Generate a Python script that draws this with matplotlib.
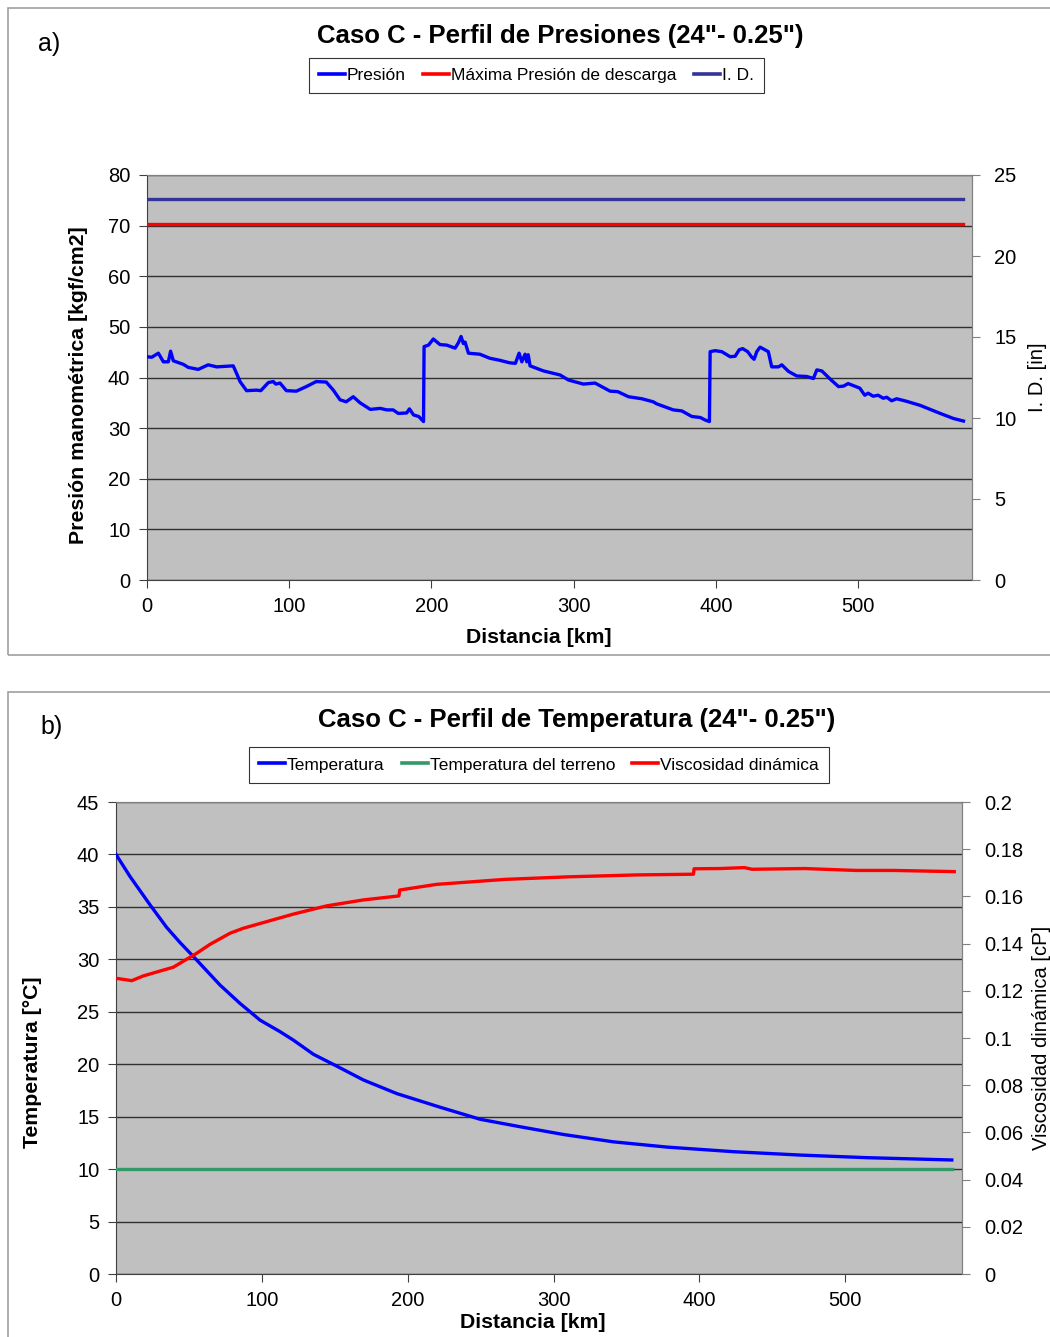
import matplotlib
matplotlib.use("Agg")
import matplotlib.pyplot as plt
from matplotlib.patches import Rectangle
from matplotlib.lines import Line2D
from matplotlib.ticker import FuncFormatter

plt.rcParams['font.family'] = ['Liberation Sans', 'DejaVu Sans']

# --- a) pressure profile ---
pres_km = [0, 3.3, 8, 11.5, 15, 16.6, 18.5, 25.5, 29, 36,
           43, 49, 60.6, 63, 65.4, 70, 77, 80, 85.3, 88.8,
           90.5, 93.5, 98, 105, 112, 119, 126, 131, 135.7, 140,
           145, 149.8, 157, 164, 168.6, 173, 176.7, 182.6, 184.5, 187.4,
           191, 194.4, 194.8, 197.9, 201.3, 206, 210.7, 216.6, 219, 220.8,
           222.4, 223.6, 226, 234, 241, 248, 255, 259, 261.6, 263.5,
           265.8, 267, 268, 269.3, 278.7, 290.4, 296.3, 306.8, 315, 325.6,
           331, 338.5, 347.9, 355.9, 358.3, 370, 376, 383, 389, 392.4,
           395.4, 395.9, 399.4, 404.1, 410, 413.5, 416.4, 418.8, 422.3, 425.2,
           426.8, 428.7, 431, 436.8, 439.2, 443.9, 446.3, 451, 456.8, 463.8,
           468.5, 470.9, 474.4, 481, 486.2, 489.7, 492.9, 501.1, 504.6, 507,
           510.5, 514, 517.6, 520, 523.5, 527, 534, 543.5, 557.7, 567,
           574]
pres = [44.1, 44.0, 44.8, 43.1, 43.1, 45.2, 43.3, 42.6, 42.0, 41.6,
        42.5, 42.1, 42.3, 40.8, 39.2, 37.4, 37.5, 37.4, 39.0, 39.2,
        38.7, 38.9, 37.4, 37.3, 38.2, 39.2, 39.1, 37.5, 35.6, 35.2,
        36.2, 35.0, 33.7, 33.9, 33.6, 33.6, 32.9, 33.0, 33.8, 32.6,
        32.3, 31.3, 46.1, 46.4, 47.6, 46.5, 46.4, 45.8, 46.9, 48.1,
        46.7, 47.0, 44.8, 44.6, 43.8, 43.4, 42.9, 42.8, 44.8, 43.1,
        44.6, 43.1, 44.5, 42.3, 41.3, 40.5, 39.5, 38.7, 38.9, 37.3,
        37.2, 36.2, 35.8, 35.2, 34.8, 33.6, 33.4, 32.3, 32.1, 31.6,
        31.3, 45.1, 45.3, 45.1, 44.1, 44.2, 45.5, 45.7, 45.1, 44.0,
        43.6, 45.1, 46.0, 45.1, 42.1, 42.1, 42.5, 41.2, 40.3, 40.2,
        39.8, 41.5, 41.3, 39.5, 38.2, 38.3, 38.8, 37.9, 36.5, 36.9,
        36.3, 36.5, 35.9, 36.1, 35.4, 35.8, 35.3, 34.5, 32.9, 31.9,
        31.4]
line_km = [0, 574]
max_pres = [70.3, 70.3]
inner_diam = [23.5, 23.5]

# --- b) temperature profile ---
temp_km = [0, 9.6, 23.3, 34.7, 43.9, 54.2, 71.3, 85, 98.8, 112.5,
           121.6, 135.3, 150.2, 169.6, 192.5, 222.2, 249.7, 277, 306.8, 341,
           377.7, 423.4, 469, 514.9, 573]
temp = [40.0, 37.9, 35.2, 33.05, 31.6, 30.1, 27.55, 25.8, 24.2, 23.1,
        22.3, 20.95, 19.9, 18.5, 17.2, 15.9, 14.75, 14.04, 13.3, 12.6,
        12.1, 11.66, 11.34, 11.09, 10.87]
ground_km = [0, 573]
ground_temp = [10, 10]
visc_km = [0, 10.8, 18.7, 39.3, 55.3, 64.5, 78.2, 87.3, 101, 121.6,
           144.5, 169.6, 194, 194.5, 219.8, 266.4, 310.5, 357, 395.9, 396.3,
           414, 430.8, 436, 472.3, 507.3, 533, 574.7]
visc = [0.1253, 0.1243, 0.1263, 0.130, 0.1359, 0.1397, 0.1444, 0.1465, 0.1489, 0.1525,
        0.156, 0.1585, 0.1602, 0.1627, 0.1651, 0.1672, 0.1683, 0.1691, 0.1694, 0.1717,
        0.1718, 0.1722, 0.1715, 0.1718, 0.171, 0.171, 0.1705]

W, H = 1050, 1337
fig = plt.figure(figsize=(W / 100, H / 100), dpi=100)
fig.patch.set_facecolor('white')

# panel frames
fig.patches.append(Rectangle((8 / W, 1 - 655 / H), 1.2, (655 - 8) / H, transform=fig.transFigure,
                             fill=False, edgecolor='#a0a0a0', lw=1.2))
fig.patches.append(Rectangle((8 / W, -0.1), 1.2, 0.1 + (1337 - 692) / H, transform=fig.transFigure,
                             fill=False, edgecolor='#a0a0a0', lw=1.2))

TICK = 14.5
LAB = 15.3
TITLE = 18.5


def style(ax, ax2):
    ax.set_facecolor('#c0c0c0')
    ax.grid(axis='y', color='#303030', lw=1.0)
    ax.set_axisbelow(True)
    for s in ['left', 'bottom']:
        ax.spines[s].set_color('#404040')
    for s in ['right', 'top']:
        ax.spines[s].set_color('#808080')
        ax2.spines[s].set_color('#808080')
    ax2.spines['left'].set_visible(False)
    ax2.spines['bottom'].set_visible(False)
    ax.tick_params(direction='out', length=6, labelsize=TICK, color='#404040', pad=6)
    ax2.tick_params(direction='out', length=6, labelsize=TICK, color='#808080', pad=10)


def legend(handles, labels, cx, cy):
    leg = fig.legend(handles, labels, loc='center', bbox_to_anchor=(cx / W, 1 - cy / H), ncol=3,
                     fontsize=12.5, frameon=True, fancybox=False, edgecolor='black',
                     handlelength=1.5, handletextpad=0.1, columnspacing=1.0, borderpad=0.6)
    leg.get_frame().set_linewidth(0.8)
    return leg


# ---------- top chart ----------
ax1 = fig.add_axes([147 / W, 1 - 580 / H, (972 - 147) / W, (580 - 175) / H])
ax1b = ax1.twinx()
style(ax1, ax1b)
ax1.plot(pres_km, pres, color='#0000ff', lw=2.4, zorder=3)
ax1.plot(line_km, max_pres, color='#ff0000', lw=2.4, zorder=3)
ax1b.plot(line_km, inner_diam, color='#333399', lw=2.4)
ax1.set_xlim(0, 580)
ax1.set_ylim(0, 80)
ax1.set_yticks(range(0, 81, 10))
ax1.set_xticks(range(0, 501, 100))
ax1b.set_ylim(0, 25)
ax1b.set_yticks(range(0, 26, 5))
ax1.set_xlabel('Distancia [km]', fontsize=LAB, fontweight='bold')
ax1.xaxis.set_label_coords(0.475, -0.118)
ax1.set_ylabel('Presión manométrica [kgf/cm2]', fontsize=LAB, fontweight='bold')
ax1.yaxis.set_label_coords(-0.072, 0.481)
ax1b.set_ylabel('I. D. [in]', fontsize=14.5, labelpad=8)

fig.text(560 / W, 1 - 36 / H, 'Caso C - Perfil de Presiones (24"- 0.25")', ha='center', va='center',
         fontsize=TITLE, fontweight='bold')
fig.text(38 / W, 1 - 44 / H, 'a)', ha='left', va='center', fontsize=18)
legend([Line2D([], [], color='#0000ff', lw=2.6), Line2D([], [], color='#ff0000', lw=2.6),
        Line2D([], [], color='#333399', lw=2.6)],
       ['Presión', 'Máxima Presión de descarga', 'I. D.'], 536.5, 75.5)

# ---------- bottom chart ----------
ax2 = fig.add_axes([116 / W, 1 - 1274 / H, (962 - 116) / W, (1274 - 802) / H])
ax2b = ax2.twinx()
style(ax2, ax2b)
ax2.plot(temp_km, temp, color='#0000ff', lw=2.4, zorder=3)
ax2.plot(ground_km, ground_temp, color='#339966', lw=2.4, zorder=3)
ax2b.plot(visc_km, visc, color='#ff0000', lw=2.4)
ax2.set_xlim(0, 580)
ax2.set_ylim(0, 45)
ax2.set_yticks(range(0, 46, 5))
ax2.set_xticks(range(0, 501, 100))
ax2b.set_ylim(0, 0.2)
ax2b.set_yticks([i * 0.02 for i in range(11)])
ax2b.yaxis.set_major_formatter(FuncFormatter(lambda v, p: f'{v:.2f}'.rstrip('0').rstrip('.')))
ax2.set_xlabel('Distancia [km]', fontsize=LAB, fontweight='bold')
ax2.xaxis.set_label_coords(0.493, -0.082)
ax2.set_ylabel('Temperatura [°C]', fontsize=LAB, fontweight='bold')
ax2.yaxis.set_label_coords(-0.087, 0.449)
ax2b.set_ylabel('Viscosidad dinámica [cP]', fontsize=14.5, labelpad=6)

fig.text(577 / W, 1 - 720 / H, 'Caso C - Perfil de Temperatura (24"- 0.25")', ha='center', va='center',
         fontsize=TITLE, fontweight='bold')
fig.text(40 / W, 1 - 727 / H, 'b)', ha='left', va='center', fontsize=18)
legend([Line2D([], [], color='#0000ff', lw=2.6), Line2D([], [], color='#339966', lw=2.6),
        Line2D([], [], color='#ff0000', lw=2.6)],
       ['Temperatura', 'Temperatura del terreno', 'Viscosidad dinámica'], 539, 765)

fig.savefig('out.png', dpi=100)
